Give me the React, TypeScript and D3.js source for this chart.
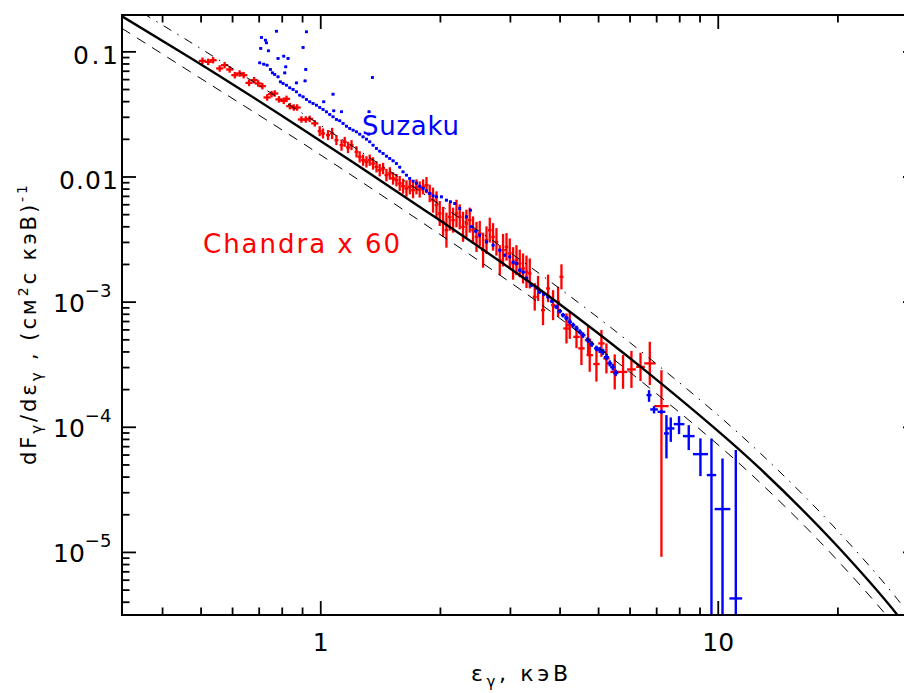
import React from 'react';
import * as d3 from 'd3';

// ---------- model curves ----------
const modelE = [0.3157, 0.4683, 0.8943, 1.675, 3.768, 6.724, 12.72, 20.0, 28.29, 31.62];
const modelSolid = [0.1929, 0.0902, 0.02443, 0.00653, 0.001103, 2.658e-4, 4.69e-5, 1.109e-5, 3.14e-6, 1.99e-6];
const modelDashed = [0.1546, 0.0697, 0.01888, 0.00505, 8.53e-4, 2.055e-4, 3.63e-5, 8.57e-6, 2.43e-6, 1.54e-6];
const modelDashDot = [0.2573, 0.1203, 0.03259, 0.00871, 0.001471, 3.546e-4, 6.26e-5, 1.479e-5, 4.19e-6, 2.65e-6];

// ---------- Chandra x 60 (red) ----------
const chandraE = [
  0.504, 0.521, 0.536, 0.557, 0.573, 0.590, 0.608, 0.625, 0.640, 0.660, 0.680, 0.696, 0.713, 0.733, 0.752, 0.766, 0.785, 0.807, 0.820, 0.836, 0.855, 0.872, 0.894, 0.917, 0.938, 0.966,
  0.994, 1.013, 1.043, 1.068, 1.095, 1.128, 1.149, 1.171, 1.195, 1.230, 1.253, 1.278, 1.303, 1.328, 1.354, 1.381, 1.407, 1.435, 1.463, 1.492, 1.520, 1.550,
  1.580, 1.611, 1.643, 1.675, 1.707, 1.741, 1.774, 1.809, 1.845, 1.880,
  1.916, 1.955, 1.992, 2.031, 2.071, 2.111, 2.152, 2.195, 2.237, 2.280, 2.325, 2.370, 2.416, 2.465, 2.512, 2.561, 2.612, 2.662, 2.713, 2.767,
  2.821, 2.875, 2.933, 2.989, 3.047, 3.107, 3.167, 3.228, 3.293, 3.356,
  3.454, 3.521, 3.624, 3.731, 3.841, 3.954, 4.032,
  4.151, 4.231, 4.399, 4.527, 4.704, 4.750, 4.938, 5.083, 5.232,
  5.490, 5.761, 6.048, 6.374, 6.726,
  7.196,
];
const chandraF = [
  0.0848, 0.0832, 0.0858, 0.0737, 0.0783, 0.0723, 0.0651, 0.0672, 0.0651, 0.0565, 0.0594, 0.0559, 0.0532, 0.0432, 0.0459, 0.0465, 0.0417, 0.0406, 0.0421, 0.0368, 0.0359, 0.0359, 0.0288, 0.0288, 0.0291, 0.0268,
  0.02325, 0.02228, 0.02160, 0.02228, 0.01970, 0.01797, 0.01910, 0.01722, 0.01797, 0.01589, 0.01449, 0.01363, 0.01321, 0.01363, 0.01283, 0.01205, 0.01134, 0.01170, 0.01035, 0.01067, 0.00974, 0.00944,
  0.00888, 0.00845, 0.00810, 0.00834, 0.00785, 0.00834, 0.00795, 0.00834, 0.00861, 0.00739,
  0.00653, 0.00596, 0.00511, 0.00438, 0.00376, 0.00480, 0.00452, 0.00511, 0.00480, 0.00400, 0.00425, 0.00452, 0.00376, 0.00332, 0.00354, 0.00260, 0.00313, 0.00376, 0.00332, 0.00303,
  0.002166, 0.00260, 0.002766, 0.002449, 0.002038, 0.002166, 0.002038, 0.001859, 0.001746, 0.001696,
  0.001103, 0.001287, 0.000863, 0.001287, 0.000946, 0.001006, 0.001593,
  0.000616, 0.000655, 0.000528, 0.000427, 0.000497, 0.000377, 0.000320, 0.000468, 0.000355,
  0.000277, 0.000277, 0.000290, 0.000304, 0.000324,
  0.0001476,
];
// error half-lengths in decades (upper / lower)
const chandraErrUp = [
  0.026, 0.026, 0.026, 0.026, 0.026, 0.026, 0.026, 0.026, 0.026, 0.026, 0.026, 0.026, 0.026, 0.026, 0.026, 0.026, 0.026, 0.026, 0.026, 0.026, 0.026, 0.026, 0.026, 0.026, 0.026, 0.026,
  0.04, 0.04, 0.04, 0.045, 0.04, 0.045, 0.04, 0.045, 0.04, 0.045, 0.045, 0.045, 0.045, 0.045, 0.05, 0.045, 0.05, 0.045, 0.05, 0.05, 0.05, 0.05,
  0.06, 0.06, 0.065, 0.06, 0.065, 0.06, 0.065, 0.06, 0.065, 0.07,
  0.1, 0.11, 0.1, 0.12, 0.14, 0.11, 0.1, 0.11, 0.1, 0.12, 0.11, 0.1, 0.11, 0.12, 0.1, 0.14, 0.11, 0.1, 0.11, 0.11,
  0.12, 0.13, 0.11, 0.12, 0.13, 0.12, 0.11, 0.12, 0.13, 0.12,
  0.11, 0.1, 0.12, 0.11, 0.12, 0.12, 0.1,
  0.12, 0.11, 0.09, 0.133, 0.12, 0.133, 0.14, 0.107, 0.12,
  0.14, 0.135, 0.148, 0.113, 0.173,
  0.287,
];
const chandraErrDn = [
  0.026, 0.026, 0.026, 0.026, 0.026, 0.026, 0.026, 0.026, 0.026, 0.026, 0.026, 0.026, 0.026, 0.026, 0.026, 0.026, 0.026, 0.026, 0.026, 0.026, 0.026, 0.026, 0.026, 0.026, 0.026, 0.026,
  0.04, 0.04, 0.04, 0.045, 0.04, 0.045, 0.04, 0.045, 0.04, 0.045, 0.045, 0.045, 0.045, 0.045, 0.05, 0.045, 0.05, 0.045, 0.05, 0.05, 0.05, 0.05,
  0.06, 0.06, 0.065, 0.06, 0.065, 0.06, 0.065, 0.06, 0.065, 0.07,
  0.1, 0.11, 0.1, 0.12, 0.14, 0.11, 0.1, 0.11, 0.1, 0.12, 0.11, 0.1, 0.11, 0.12, 0.1, 0.14, 0.11, 0.1, 0.11, 0.11,
  0.12, 0.13, 0.11, 0.12, 0.13, 0.12, 0.11, 0.12, 0.13, 0.12,
  0.11, 0.1, 0.12, 0.11, 0.12, 0.12, 0.1,
  0.12, 0.11, 0.09, 0.133, 0.12, 0.133, 0.14, 0.107, 0.12,
  0.14, 0.135, 0.148, 0.113, 0.173,
  1.204,
];
// energy bin half-widths in decades
const chandraBin = [
  0.009, 0.009, 0.009, 0.009, 0.009, 0.009, 0.009, 0.009, 0.009, 0.009, 0.009, 0.009, 0.009, 0.009, 0.009, 0.009, 0.009, 0.009, 0.009, 0.009, 0.009, 0.009, 0.009, 0.009, 0.009, 0.009,
  0.005, 0.005, 0.005, 0.005, 0.005, 0.005, 0.005, 0.005, 0.005, 0.005, 0.005, 0.005, 0.005, 0.005, 0.005, 0.005, 0.005, 0.005, 0.005, 0.005, 0.005, 0.005,
  0.005, 0.005, 0.005, 0.005, 0.005, 0.005, 0.005, 0.005, 0.005, 0.005,
  0.0045, 0.0045, 0.0045, 0.0045, 0.0045, 0.0045, 0.0045, 0.0045, 0.0045, 0.0045, 0.0045, 0.0045, 0.0045, 0.0045, 0.0045, 0.0045, 0.0045, 0.0045, 0.0045, 0.0045,
  0.0045, 0.0045, 0.0045, 0.0045, 0.0045, 0.0045, 0.0045, 0.0045, 0.0045, 0.0045,
  0.005, 0.005, 0.005, 0.005, 0.005, 0.005, 0.005,
  0.008, 0.008, 0.008, 0.008, 0.008, 0.008, 0.008, 0.008, 0.008,
  0.011, 0.011, 0.011, 0.011, 0.014,
  0.018,
];

// ---------- Suzaku (blue) ----------
const suzakuE = [
  0.7023, 0.7187, 0.7326, 0.7472, 0.7558, 0.7660, 0.7808, 0.7917, 0.8039, 0.8197,
  0.8356, 0.8517, 0.8687, 0.8855, 0.9026, 0.9205, 0.9383, 0.9563, 0.9754, 0.9942,
  1.0134, 1.0335, 1.0535, 1.0737, 1.0952, 1.1163, 1.1379, 1.1606, 1.1830, 1.2058,
  1.2297, 1.2533, 1.2775, 1.3031, 1.3282, 1.3538, 1.3807, 1.4074, 1.4346, 1.4633,
  1.4915, 1.5203, 1.5503, 1.5802, 1.6106, 1.6427, 1.6745, 1.7068, 1.7406, 1.7742,
  1.8087, 1.8445, 1.8801, 1.9164, 1.9546, 2.0115, 2.0710, 2.1200, 2.1737, 2.2370,
  2.3254, 2.3939, 2.4545, 2.5119, 2.6116, 2.7134, 2.8205, 2.9034, 2.9890, 3.0468,
  3.1070, 3.1670, 3.2281, 3.2925, 3.3892, 3.4883, 3.5559, 3.6393, 3.7307, 3.8115,
  3.9174, 3.9932, 4.0702, 4.1506, 4.2308, 4.3125, 4.3986, 4.4835, 4.5700, 4.7036,
  4.8054, 4.9388, 5.0341, 5.1313, 5.2323, 5.3333, 5.4275, 5.5222,
];
const suzakuF = [
  0.08168, 0.07975, 0.07830, 0.07235, 0.06794, 0.06597, 0.06313, 0.05757, 0.05591, 0.05418,
  0.05158, 0.05007, 0.04791, 0.04508, 0.04369, 0.04166, 0.03986, 0.03870, 0.03751, 0.03595,
  0.03466, 0.03316, 0.03161, 0.03024, 0.02884, 0.02811, 0.02679, 0.02549, 0.02443, 0.02368,
  0.02295, 0.02200, 0.02093, 0.02007, 0.01910, 0.01797, 0.01691, 0.01609, 0.01542, 0.01468,
  0.01406, 0.01346, 0.01283, 0.01199, 0.01099, 0.01035, 0.00974, 0.00927, 0.00893, 0.00845,
  0.00810, 0.00775, 0.00739, 0.00707, 0.00694, 0.00694, 0.00653, 0.00633, 0.00614, 0.00561,
  0.00480, 0.00400, 0.00369, 0.00343, 0.00303, 0.002853, 0.002602, 0.002374, 0.002301, 0.002088,
  0.002038, 0.001802, 0.001737, 0.001555, 0.001368, 0.001306, 0.001209, 0.001159, 0.001103, 0.001019,
  0.000917, 0.000847, 0.000787, 0.000745, 0.000696, 0.000655, 0.000616, 0.000579, 0.000545, 0.000497,
  0.000462, 0.000427, 0.000414, 0.000401, 0.000363, 0.000324, 0.000302, 0.000272,
];
const suzakuErr = [
  0.011, 0.011, 0.011, 0.011, 0.011, 0.011, 0.011, 0.011, 0.011, 0.011,
  0.011, 0.011, 0.011, 0.011, 0.011, 0.011, 0.011, 0.011, 0.011, 0.011,
  0.011, 0.011, 0.011, 0.011, 0.011, 0.011, 0.011, 0.011, 0.011, 0.011,
  0.011, 0.011, 0.011, 0.011, 0.011, 0.011, 0.011, 0.011, 0.011, 0.011,
  0.011, 0.011, 0.011, 0.011, 0.011, 0.011, 0.011, 0.011, 0.011, 0.011,
  0.012, 0.012, 0.012, 0.012, 0.012, 0.012, 0.012, 0.012, 0.012, 0.012,
  0.013, 0.013, 0.013, 0.013, 0.013, 0.013, 0.013, 0.013, 0.013, 0.013,
  0.014, 0.014, 0.014, 0.014, 0.016, 0.016, 0.016, 0.016, 0.016, 0.016,
  0.018, 0.018, 0.018, 0.018, 0.02, 0.02, 0.02, 0.02, 0.022, 0.022,
  0.022, 0.022, 0.024, 0.024, 0.024, 0.024, 0.026, 0.026,
];
const suzakuBin = [
  0.0038, 0.0038, 0.0038, 0.0038, 0.0038, 0.0038, 0.0038, 0.0038, 0.0038, 0.0038,
  0.0038, 0.0038, 0.0038, 0.0038, 0.0038, 0.0038, 0.0038, 0.0038, 0.0038, 0.0038,
  0.0038, 0.0038, 0.0038, 0.0038, 0.0038, 0.0038, 0.0038, 0.0038, 0.0038, 0.0038,
  0.0038, 0.0038, 0.0038, 0.0038, 0.0038, 0.0038, 0.0038, 0.0038, 0.0038, 0.0038,
  0.0038, 0.0038, 0.0038, 0.0038, 0.0038, 0.0038, 0.0038, 0.0038, 0.0038, 0.0038,
  0.0038, 0.0038, 0.0038, 0.0038, 0.0038, 0.0038, 0.0038, 0.0038, 0.0038, 0.0038,
  0.0038, 0.0038, 0.0038, 0.0038, 0.0038, 0.0038, 0.0038, 0.0038, 0.0038, 0.0038,
  0.0045, 0.0045, 0.0045, 0.0045, 0.0045, 0.0045, 0.0045, 0.0045, 0.0045, 0.0045,
  0.0055, 0.0055, 0.0055, 0.0055, 0.0055, 0.0055, 0.0055, 0.0055, 0.006, 0.006,
  0.006, 0.006, 0.0065, 0.0065, 0.0065, 0.0065, 0.0065, 0.0065,
];
// scattered Suzaku points at low energies
const suzakuScatterE = [0.7092, 0.7258, 0.7300, 0.7064, 0.7385, 0.7737, 0.9205, 0.9026, 0.7808, 0.8071, 0.8274, 0.8166, 0.8118, 0.9169, 0.8687, 0.9131, 1.0737, 1.0175, 1.3491, 1.1275, 1.3228, 1.0782, 2.3801, 1.3206];
const suzakuScatterF = [0.1303, 0.1240, 0.1180, 0.1065, 0.1019, 0.1463, 0.1445, 0.1084, 0.0886, 0.0924, 0.0886, 0.0759, 0.0679, 0.0723, 0.0565, 0.0586, 0.0459, 0.0399, 0.0624, 0.0332, 0.0332, 0.0338, 0.00543, 0.0220];
// hard-band Suzaku points with large errors
const suzakuHardE = [6.697, 6.894, 7.196, 7.407, 7.595, 7.968, 8.429, 9.019, 9.614, 10.25, 11.07];
const suzakuHardF = [1.806e-4, 1.389e-4, 1.329e-4, 8.93e-5, 9.79e-5, 1.060e-4, 8.50e-5, 6.10e-5, 4.15e-5, 2.22e-5, 4.29e-6];
const suzakuHardHi = [1.980e-4, 1.476e-4, 1.378e-4, 1.251e-4, 1.199e-4, 1.228e-4, 1.040e-4, 8.15e-5, 8.15e-5, 5.64e-5, 6.57e-5];
const suzakuHardLo = [1.597e-4, 1.290e-4, 1.281e-4, 5.64e-5, 7.65e-5, 8.82e-5, 6.57e-5, 4.07e-5, 1e-7, 1e-7, 1e-7];
const suzakuHardBin = [0.0063, 0.0096, 0.0097, 0.0063, 0.0092, 0.0135, 0.0147, 0.0189, 0.0118, 0.0197, 0.016];

// ---------- axes ----------
const xMajorTicks = [1, 10];
const xTickLabels = ['1', '10'];
const yMajorTicks = [0.1, 0.01, 1e-3, 1e-4, 1e-5];
const yTickLabels = [
  { base: '0.1', exp: '' },
  { base: '0.01', exp: '' },
  { base: '10', exp: '\u22123' },
  { base: '10', exp: '\u22124' },
  { base: '10', exp: '\u22125' },
];

const W = 904;
const H = 693;
const PL = 122, PR = 917, PT = 15, PB = 615;
const FONT = 'DejaVu Sans';
const RED = '#ff0000';
const BLUE = '#0000ff';

export default function App() {
  const x = d3.scaleLog().domain([Math.pow(10, -0.5), Math.pow(10, 1.5)]).range([PL, PR]);
  const y = d3.scaleLog().domain([Math.pow(10, -5.5), 0.197]).range([PB, PT]);
  const [xd0, xd1] = x.domain();
  const [yd0, yd1] = y.domain();

  const xMinor: number[] = [];
  [0.1, 1, 10].forEach((dec) => {
    for (let m = 2; m <= 9; m++) {
      const v = m * dec;
      if (v > xd0 && v < xd1) xMinor.push(v);
    }
  });
  const yMinor: number[] = [];
  [1e-6, 1e-5, 1e-4, 1e-3, 1e-2, 1e-1].forEach((dec) => {
    for (let m = 2; m <= 9; m++) {
      const v = m * dec;
      if (v > yd0 && v < yd1) yMinor.push(v);
    }
  });

  const mk = (vals: number[]) =>
    d3
      .line<number>()
      .x((_, i) => x(modelE[i]))
      .y((d) => y(d))
      .curve(d3.curveMonotoneX)(vals) || '';

  const MAJ = 14, MIN = 7.5;

  return (
    <svg
      width={W}
      height={H}
      style={{ position: 'absolute', left: 0, top: 0, background: '#fff' }}
      fontFamily={FONT}
    >
      <rect x={0} y={0} width={W} height={H} fill="#fff" />
      <defs>
        <clipPath id="plot">
          <rect x={PL} y={PT} width={PR - PL} height={PB - PT} />
        </clipPath>
      </defs>

      <g clipPath="url(#plot)">
        {/* Chandra */}
        <g stroke={RED} strokeWidth={2.3}>
          {chandraE.map((e, i) => {
            const f = chandraF[i];
            const cx = x(e);
            const cy = y(f);
            return (
              <g key={'c' + i}>
                <line x1={cx} x2={cx} y1={y(f * Math.pow(10, chandraErrUp[i]))} y2={y(f / Math.pow(10, chandraErrDn[i]))} />
                <line x1={x(e / Math.pow(10, chandraBin[i]))} x2={x(e * Math.pow(10, chandraBin[i]))} y1={cy} y2={cy} />
              </g>
            );
          })}
        </g>
        {/* Suzaku */}
        <g stroke={BLUE} strokeWidth={2.4}>
          {suzakuE.map((e, i) => {
            const f = suzakuF[i];
            const cx = x(e);
            const cy = y(f);
            return (
              <g key={'s' + i}>
                <line x1={cx} x2={cx} y1={y(f * Math.pow(10, suzakuErr[i]))} y2={y(f / Math.pow(10, suzakuErr[i]))} />
                <line x1={x(e / Math.pow(10, suzakuBin[i]))} x2={x(e * Math.pow(10, suzakuBin[i]))} y1={cy} y2={cy} />
              </g>
            );
          })}
          {suzakuScatterE.map((e, i) => {
            const f = suzakuScatterF[i];
            const cx = x(e);
            const cy = y(f);
            return (
              <g key={'o' + i}>
                <line x1={cx} x2={cx} y1={y(f * Math.pow(10, 0.011))} y2={y(f / Math.pow(10, 0.011))} />
                <line x1={x(e / Math.pow(10, 0.0038))} x2={x(e * Math.pow(10, 0.0038))} y1={cy} y2={cy} />
              </g>
            );
          })}
          {suzakuHardE.map((e, i) => {
            const cx = x(e);
            const cy = y(suzakuHardF[i]);
            return (
              <g key={'h' + i}>
                <line x1={cx} x2={cx} y1={y(suzakuHardHi[i])} y2={y(suzakuHardLo[i])} />
                <line x1={x(e / Math.pow(10, suzakuHardBin[i]))} x2={x(e * Math.pow(10, suzakuHardBin[i]))} y1={cy} y2={cy} />
              </g>
            );
          })}
        </g>

        {/* model curves */}
        <path d={mk(modelDashed)} fill="none" stroke="#000" strokeWidth={1} strokeDasharray="10,8" />
        <path d={mk(modelDashDot)} fill="none" stroke="#000" strokeWidth={1} strokeDasharray="9,7,1.5,7" />
        <path d={mk(modelSolid)} fill="none" stroke="#000" strokeWidth={2.4} />
      </g>

      {/* frame */}
      <rect x={PL} y={PT} width={PR - PL} height={PB - PT} fill="none" stroke="#000" strokeWidth={2} />

      {/* ticks */}
      <g stroke="#000" strokeWidth={1.8}>
        {xMajorTicks.map((v) => (
          <g key={'xm' + v}>
            <line x1={x(v)} x2={x(v)} y1={PB} y2={PB - MAJ} />
            <line x1={x(v)} x2={x(v)} y1={PT} y2={PT + MAJ} />
          </g>
        ))}
        {xMinor.map((v) => (
          <g key={'xn' + v}>
            <line x1={x(v)} x2={x(v)} y1={PB} y2={PB - MIN} />
            <line x1={x(v)} x2={x(v)} y1={PT} y2={PT + MIN} />
          </g>
        ))}
        {yMajorTicks.map((v) => (
          <g key={'ym' + v}>
            <line x1={PL} x2={PL + MAJ} y1={y(v)} y2={y(v)} />
            <line x1={PR} x2={PR - MAJ} y1={y(v)} y2={y(v)} />
          </g>
        ))}
        {yMinor.map((v) => (
          <g key={'yn' + v}>
            <line x1={PL} x2={PL + MIN} y1={y(v)} y2={y(v)} />
            <line x1={PR} x2={PR - MIN} y1={y(v)} y2={y(v)} />
          </g>
        ))}
      </g>

      {/* y tick labels */}
      {yMajorTicks.map((v, i) => {
        const lab = yTickLabels[i];
        const ty = y(v);
        if (!lab.exp) {
          return (
            <text key={'yl' + i} x={118} y={ty + 12.5} fontSize={25} textAnchor="end" fill="#000"
              textLength={lab.base.length === 3 ? 45 : 59} lengthAdjust="spacing">
              {lab.base}
            </text>
          );
        }
        return (
          <text key={'yl' + i} x={53} y={ty + 10} fontSize={25} fill="#000">
            {lab.base}
            <tspan dy={-15} fontSize={18}>{lab.exp}</tspan>
          </text>
        );
      })}

      {/* x tick labels */}
      {xMajorTicks.map((v, i) => (
        <text key={'xl' + i} x={x(v)} y={650.5} fontSize={25} textAnchor="middle" fill="#000">
          {xTickLabels[i]}
        </text>
      ))}

      {/* axis titles */}
      <text x={471} y={681} fontSize={22} fill="#000" textLength={97} lengthAdjust="spacing">
        ε<tspan dy={6} fontSize={15}>γ</tspan>
        <tspan dy={-6}>,  кэВ</tspan>
      </text>

      <text transform="translate(36,465) rotate(-90)" fontSize={21} fill="#000" textLength={280} lengthAdjust="spacing">
        dF<tspan dy={6} fontSize={15}>γ</tspan>
        <tspan dy={-6}>/dε</tspan>
        <tspan dy={6} fontSize={15}>γ</tspan>
        <tspan dy={-6}> , (см</tspan>
        <tspan dy={-8} fontSize={14}>2</tspan>
        <tspan dy={8}>с кэВ)</tspan>
        <tspan dy={-9} fontSize={14}>-1</tspan>
      </text>

      {/* series labels */}
      <text x={362} y={135} fontSize={26} fill={BLUE} textLength={97} lengthAdjust="spacing">Suzaku</text>
      <text x={203} y={253} fontSize={26} fill={RED} textLength={197} lengthAdjust="spacing">Chandra x 60</text>
    </svg>
  );
}
